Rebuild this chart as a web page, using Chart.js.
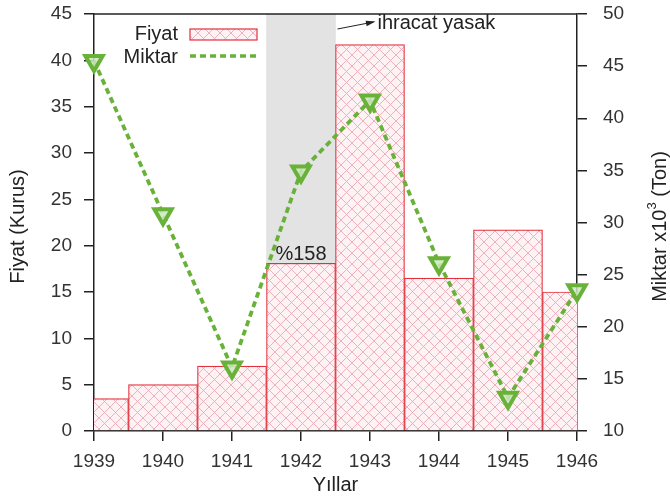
<!DOCTYPE html>
<html>
<head>
<meta charset="utf-8">
<script src="https://cdn.jsdelivr.net/npm/chart.js@4"></script>
<style>
  html, body { margin: 0; padding: 0; background: #fff; }
  #wrap { width: 670px; height: 504px; }
</style>
</head>
<body>
<div id="wrap"><canvas id="chart" width="670" height="504"></canvas></div>
<script>
// ---------- Data ----------
const years = ["1939", "1940", "1941", "1942", "1943", "1944", "1945", "1946"];
const fiyat = [3.5, 5, 7, 18.1, 41.7, 16.5, 21.7, 15];
const miktar = [45.5, 30.8, 16.1, 34.9, 41.7, 26.1, 13.2, 23.5];
const yasakBand = [null, null, null, [18.1, 45], null, null, null, null];
const fiyatTicks = { min: 0, max: 45, step: 5 };
const miktarTicks = { min: 10, max: 50, step: 5 };

const FONT = "'Liberation Sans', Arial, sans-serif";
const RED = "#e2303c";
const GREEN = "#69b23a";
const INK = "#222";

// ---------- Hatch pattern ----------
function makeHatch() {
    const c = document.createElement("canvas");
    c.width = 11; c.height = 11;
    const g = c.getContext("2d");
    g.fillStyle = "#fff2f4";
    g.fillRect(0, 0, 11, 11);
    g.strokeStyle = "#e9aab6";
    g.lineWidth = 0.9;
    g.beginPath();
    g.moveTo(0, 0); g.lineTo(11, 11);
    g.moveTo(11, 0); g.lineTo(0, 11);
    g.stroke();
    return g.createPattern(c, "repeat");
}
const hatch = makeHatch();

// ---------- Extras: frame, titles, notes, legend ----------
const extras = {
    id: "extras",
    afterDatasetsDraw(chart) {
        const ctx = chart.ctx;
        const a = chart.chartArea;
        const x = chart.scales.x, y = chart.scales.y;
        const midY = (a.top + a.bottom) / 2 + 4;
        ctx.save();
        // top frame
        ctx.strokeStyle = INK;
        ctx.lineWidth = 1.5;
        ctx.beginPath();
        ctx.moveTo(a.left, a.top); ctx.lineTo(a.right, a.top);
        ctx.stroke();

        ctx.font = "20px " + FONT;
        ctx.fillStyle = INK;

        // axis titles
        ctx.textAlign = "center";
        ctx.textBaseline = "middle";
        ctx.fillText("Yıllar", (a.left + a.right) / 2, 485);

        ctx.save();
        ctx.translate(18, midY);
        ctx.rotate(-Math.PI / 2);
        ctx.fillText("Fiyat (Kurus)", 0, 0);
        ctx.restore();

        ctx.save();
        ctx.translate(660, midY);
        ctx.rotate(-Math.PI / 2);
        const p1 = "Miktar x10", p2 = "3", p3 = " (Ton)";
        ctx.font = "20px " + FONT;
        const w1 = ctx.measureText(p1).width, w3 = ctx.measureText(p3).width;
        ctx.font = "13px " + FONT;
        const w2 = ctx.measureText(p2).width;
        let sx = -(w1 + w2 + w3) / 2;
        ctx.textAlign = "left";
        ctx.font = "20px " + FONT;
        ctx.fillText(p1, sx, 0);
        ctx.font = "13px " + FONT;
        ctx.fillText(p2, sx + w1, -8);
        ctx.font = "20px " + FONT;
        ctx.fillText(p3, sx + w1 + w2, 0);
        ctx.restore();

        // %158 label
        ctx.textAlign = "center";
        ctx.textBaseline = "bottom";
        ctx.fillText("%158", x.getPixelForValue(3), y.getPixelForValue(fiyat[3]) + 1);

        // ihracat yasak arrow
        const ax0 = x.getPixelForValue(3.5) + 2, ay0 = a.top + 15;
        const ax1 = ax0 + 36, ay1 = a.top + 8;
        ctx.strokeStyle = INK;
        ctx.lineWidth = 1;
        ctx.beginPath(); ctx.moveTo(ax0, ay0); ctx.lineTo(ax1, ay1); ctx.stroke();
        const ang = Math.atan2(ay1 - ay0, ax1 - ax0);
        ctx.beginPath();
        ctx.moveTo(ax1 + 2, ay1 - 0.4);
        ctx.lineTo(ax1 - 8 * Math.cos(ang - 0.35), ay1 - 8 * Math.sin(ang - 0.35));
        ctx.lineTo(ax1 - 8 * Math.cos(ang + 0.35), ay1 - 8 * Math.sin(ang + 0.35));
        ctx.closePath(); ctx.fill();
        ctx.textAlign = "left";
        ctx.textBaseline = "middle";
        ctx.fillText("ihracat yasak", ax1 + 4, a.top + 9);

        // legend
        const lx = a.left + 84, bx = a.left + 96, bw = 67;
        ctx.textAlign = "right";
        ctx.fillText("Fiyat", lx, a.top + 20);
        ctx.fillText("Miktar", lx, a.top + 43);
        ctx.fillStyle = hatch;
        ctx.fillRect(bx, a.top + 15, bw, 11);
        ctx.strokeStyle = RED;
        ctx.lineWidth = 1.2;
        ctx.strokeRect(bx, a.top + 15, bw, 11);
        ctx.strokeStyle = GREEN;
        ctx.lineWidth = 3.5;
        ctx.setLineDash([6, 4]);
        ctx.beginPath();
        ctx.moveTo(bx, a.top + 42); ctx.lineTo(bx + bw, a.top + 42);
        ctx.stroke();
        ctx.restore();
    }
};

// ---------- Chart ----------
const tickFont = { family: FONT, size: 19 };
const axisGrid = { display: true, drawOnChartArea: false, tickLength: 10, color: INK, lineWidth: 1.5, offset: false };
function fixY(width) {
    return s => { s.width = width; s.paddingTop = 0; s.paddingBottom = 0; };
}
new Chart(document.getElementById("chart").getContext("2d"), {
    data: {
        labels: years,
        datasets: [
            {
                type: "line",
                label: "Miktar",
                data: miktar,
                yAxisID: "y2",
                borderColor: GREEN,
                borderWidth: 3.8,
                borderDash: [6, 4],
                pointStyle: "triangle",
                rotation: 180,
                pointRadius: 10,
                pointBorderWidth: 4,
                pointBorderColor: GREEN,
                pointBackgroundColor: "rgba(205,232,190,0.85)",
                tension: 0,
                clip: false,
                order: 0
            },
            {
                type: "bar",
                label: "Fiyat",
                data: fiyat,
                yAxisID: "y",
                backgroundColor: hatch,
                borderColor: RED,
                borderWidth: 1.2,
                barPercentage: 1,
                categoryPercentage: 1,
                grouped: false,
                clip: 0,
                order: 1
            },
            {
                type: "bar",
                label: "yasak",
                data: yasakBand,
                yAxisID: "y",
                backgroundColor: "#e3e3e3",
                borderWidth: 0,
                barPercentage: 1,
                categoryPercentage: 1,
                grouped: false,
                clip: 0,
                order: 2
            }
        ]
    },
    options: {
        responsive: false,
        animation: false,
        devicePixelRatio: 1,
        layout: { padding: { top: 12, left: 0, right: 0, bottom: 0 } },
        plugins: { legend: { display: false }, tooltip: { enabled: false } },
        scales: {
            x: {
                type: "category",
                offset: false,
                grid: axisGrid,
                border: { color: INK, width: 1.5 },
                ticks: { font: tickFont, color: "#333", padding: 9, maxRotation: 0, autoSkip: false },
                afterFit: s => { s.height = 73; s.paddingLeft = 0; s.paddingRight = 0; }
            },
            y: {
                position: "left",
                min: fiyatTicks.min, max: fiyatTicks.max,
                grid: axisGrid,
                border: { color: INK, width: 1.5 },
                ticks: { stepSize: fiyatTicks.step, font: tickFont, color: "#333", padding: 12 },
                afterFit: fixY(94)
            },
            y2: {
                position: "right",
                min: miktarTicks.min, max: miktarTicks.max,
                grid: axisGrid,
                border: { color: INK, width: 1.5 },
                ticks: { stepSize: miktarTicks.step, font: tickFont, color: "#333", padding: 16 },
                afterFit: fixY(93)
            }
        }
    },
    plugins: [extras]
});
</script>
</body>
</html>
